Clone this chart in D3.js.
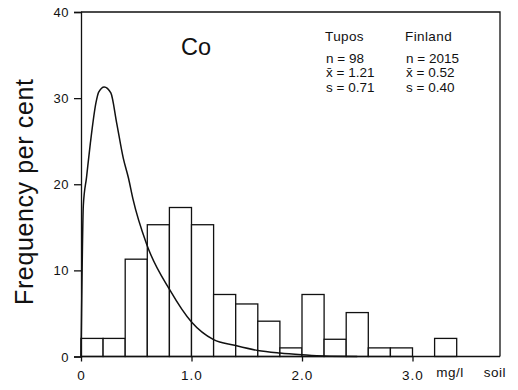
<!DOCTYPE html>
<html>
<head>
<meta charset="utf-8">
<script src="https://cdn.jsdelivr.net/npm/d3@7"></script>
<style>
  body { margin: 0; background: #fff; }
  text { font-family: "Liberation Sans", Arial, sans-serif; fill: #111; }
</style>
</head>
<body>
<div id="chart"></div>
<script>
//Width and height
var w = 518;
var h = 390;

// Tupos histogram: bin starts (mg/l) and frequency per cent
var binStarts = [0.0, 0.2, 0.4, 0.6, 0.8, 1.0, 1.2, 1.4, 1.6, 1.8, 2.0, 2.2, 2.4, 2.6, 2.8, 3.0, 3.2];
var binFreq = [2.1, 2.1, 11.3, 15.3, 17.3, 15.3, 7.2, 6.1, 4.1, 1.0, 7.2, 2.0, 5.1, 1.0, 1.0, 0, 2.1];
var binWidth = 0.2;

// Finland curve
var curveX = [0, 0.005, 0.021, 0.05, 0.085, 0.136, 0.16, 0.21, 0.27, 0.323, 0.383, 0.43, 0.47, 0.595, 0.805, 1.0, 1.2, 1.39, 1.6, 1.8, 2.0, 2.2, 2.5];
var curveY = [0, 5, 17.5, 20.8, 24.8, 29.5, 30.7, 31.3, 30.6, 27.1, 23.0, 20.7, 18.3, 13.0, 7.7, 4.0, 1.95, 1.3, 0.7, 0.4, 0.2, 0.05, 0];

// tick labels
var yTicks = [0, 10, 20, 30, 40];
var xTicks = [0, 1, 2, 3];
var xTickLabels = ["0", "1.0", "2.0", "3.0"];

// stats block
var statCols = ["Tupos", "Finland"];
var statN = ["n = 98", "n = 2015"];
var statMean = ["x\u0304 = 1.21", "x\u0304 = 0.52"];
var statS = ["s = 0.71", "s = 0.40"];

var x = d3.scaleLinear()
  .domain([0, 3.8])
  .range([81, 81 + 3.8 * 110.5]);

var y = d3.scaleLinear()
  .domain([0, 40])
  .range([356.5, 12]);

var svg = d3.select("#chart")
  .append("svg")
  .attr("width", w)
  .attr("height", h);

// frame: top and right lines
svg.append("path")
  .attr("d", "M" + x(0) + "," + y(40) + "H500V" + y(0))
  .style("fill", "none")
  .style("stroke", "#111")
  .style("stroke-width", 1.3);

// bars
svg.selectAll("rect.bar")
  .data(binStarts.map(function(d, i) { return { x0: d, v: binFreq[i] }; }).filter(function(d) { return d.v > 0; }))
  .enter()
  .append("rect")
  .attr("class", "bar")
  .attr("x", function(d) { return x(d.x0); })
  .attr("y", function(d) { return y(d.v); })
  .attr("width", function(d) { return x(d.x0 + binWidth) - x(d.x0); })
  .attr("height", function(d) { return y(0) - y(d.v); })
  .style("fill", "#fff")
  .style("stroke", "#111")
  .style("stroke-width", 1.3);

// Finland curve
var line = d3.line()
  .x(function(d) { return x(d[0]); })
  .y(function(d) { return y(d[1]); })
  .curve(d3.curveMonotoneX);

svg.append("path")
  .datum(curveX.map(function(d, i) { return [d, curveY[i]]; }))
  .attr("d", line)
  .style("fill", "none")
  .style("stroke", "#111")
  .style("stroke-width", 1.5);

// y axis
var yAxis = d3.axisLeft(y)
  .tickValues(yTicks)
  .tickSize(7)
  .tickPadding(5)
  .tickFormat(d3.format("d"));

var gy = svg.append("g")
  .attr("transform", "translate(" + x(0) + ",0)")
  .call(yAxis);
gy.select(".domain").style("stroke", "#111").style("stroke-width", 1.3);
gy.selectAll("line").style("stroke", "#111").style("stroke-width", 1.3);
gy.selectAll("text")
  .style("font-size", "13px")
  .style("letter-spacing", "0.5px")
  .attr("dy", "0.35em");

// x axis
var xAxis = d3.axisBottom(x)
  .tickValues(xTicks)
  .tickSize(5)
  .tickPadding(9)
  .tickFormat(function(d, i) { return xTickLabels[i]; });

var gx = svg.append("g")
  .attr("transform", "translate(0," + y(0) + ")")
  .call(xAxis);
gx.select(".domain")
  .attr("d", "M" + x(0) + ",0H500")
  .style("stroke", "#111")
  .style("stroke-width", 1.3);
gx.selectAll("line").style("stroke", "#111").style("stroke-width", 1.3);
gx.selectAll("text")
  .style("font-size", "13.5px")
  .style("letter-spacing", "1px");

// unit labels
svg.append("text")
  .attr("x", 450)
  .attr("y", 377)
  .attr("text-anchor", "middle")
  .style("font-size", "13.5px")
  .style("letter-spacing", "0.5px")
  .text("mg/l");

svg.append("text")
  .attr("x", 495)
  .attr("y", 377)
  .attr("text-anchor", "middle")
  .style("font-size", "13.5px")
  .style("letter-spacing", "0.5px")
  .text("soil");

// y title
svg.append("text")
  .attr("transform", "translate(33,192) rotate(-90)")
  .attr("text-anchor", "middle")
  .attr("textLength", 226)
  .attr("lengthAdjust", "spacing")
  .style("font-size", "25px")
  .text("Frequency  per  cent");

// element label
svg.append("text")
  .attr("x", 181)
  .attr("y", 55)
  .style("font-size", "23.5px")
  .text("Co");

// stats
var colX = [325, 405];
var rows = [statN, statMean, statS];
var rowY = [63, 77, 92];

statCols.forEach(function(c, i) {
  svg.append("text")
    .attr("x", colX[i])
    .attr("y", 41)
    .style("font-size", "13.5px")
    .style("letter-spacing", "0.4px")
    .text(c);
  rows.forEach(function(r, j) {
    svg.append("text")
      .attr("x", colX[i] + 1)
      .attr("y", rowY[j])
      .style("font-size", "13.5px")
      .text(r[i]);
  });
});
</script>
</body>
</html>
